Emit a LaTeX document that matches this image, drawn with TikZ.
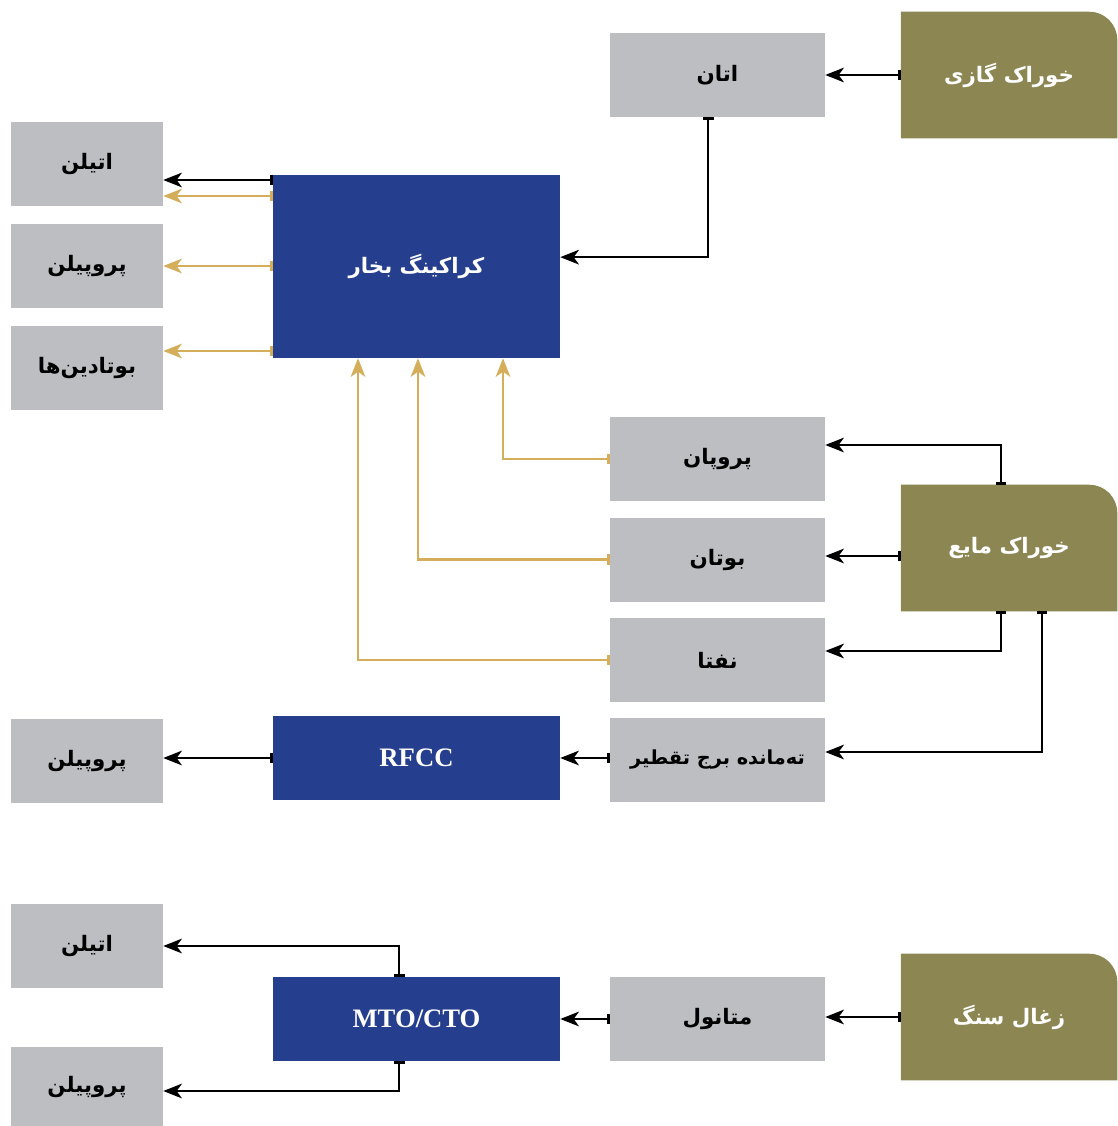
\documentclass[tikz,border=0pt]{standalone}
\usepackage{fontspec}
\setmainfont{Liberation Serif}
\newfontfamily\farsi[Script=Arabic]{DejaVu Sans}
\TeXXeTstate=1
\usetikzlibrary{arrows.meta,positioning,backgrounds}
\definecolor{boxgray}{HTML}{BDBEC2}
\definecolor{unitblue}{HTML}{253E8D}
\definecolor{feedolive}{HTML}{8C8653}
\definecolor{flowgold}{HTML}{D4AE5A}
\newcommand{\fa}[1]{{\farsi\bfseries\beginR #1\endR}}
\newcommand{\feedshape}[1]{\fill[feedolive] (#1.south west) -- (#1.north west)
  -- ([xshift=-21pt]#1.north east) arc[start angle=90, end angle=0, radius=21pt]
  -- (#1.south east) -- cycle;}
\tikzstyle{prod}=[fill=boxgray, inner sep=0, minimum height=63pt,
                  font=\fontsize{16}{18}\selectfont]
\tikzstyle{left prod}=[prod, minimum width=114pt]
\tikzstyle{right prod}=[prod, minimum width=161.25pt]
\tikzstyle{unit}=[fill=unitblue, text=white, inner sep=0, minimum width=215.25pt,
                  minimum height=63pt, font=\fontsize{16}{18}\selectfont]
\tikzstyle{unit latin}=[unit, font=\fontsize{20}{22}\selectfont\bfseries]
\tikzstyle{feed}=[text=white, inner sep=0, minimum width=162pt, minimum height=94.5pt,
                  font=\fontsize{16}{18}\selectfont]
\tikzstyle{flow}=[draw, line width=1.8pt,
                  arrows={Bar[width=8pt]-Stealth[length=14pt,width=11pt,inset=4pt]}]
\tikzstyle{gold flow}=[flow, draw=flowgold]
\begin{document}
\begin{tikzpicture}[x=0.75pt, y=-0.75pt]
\useasboundingbox (0,0) rectangle (1117,1126);

% steam cracking
\node[feed] at (1009,75) (gas) {\fa{خوراک گازی}};
\node[right prod] at (717.5,75) (ethane) {\fa{اتان}};
\node[unit, minimum height=137.25pt] at (416.5,266.5) (steam) {\fa{کراکینگ بخار}};
\node[left prod] at (87,164) (ethyleneA) {\fa{اتیلن}};
\node[left prod, below = 12.75pt of ethyleneA] (propyleneA) {\fa{پروپیلن}};
\node[left prod, below = 13.5pt of propyleneA] (butadiene) {\fa{بوتادین‌ها}};

% liquid feed
\node[feed] at (1009,548) (liquid) {\fa{خوراک مایع}};
\node[right prod] at (717.5,459) (propane) {\fa{پروپان}};
\node[right prod, below = 12pt of propane] (butane) {\fa{بوتان}};
\node[right prod, below = 12pt of butane] (naphtha) {\fa{نفتا}};
\node[right prod, below = 11.25pt of naphtha, font=\fontsize{14.5}{17}\selectfont]
  (residue) {\fa{ته‌مانده برج تقطیر}};
\node[unit latin] at (416.5,758) (rfcc) {RFCC};
\node[left prod] at (87,761) (propyleneB) {\fa{پروپیلن}};

% coal
\node[feed] at (1009,1017) (coal) {\fa{زغال سنگ}};
\node[right prod] at (717.5,1019) (methanol) {\fa{متانول}};
\node[unit latin] at (416.5,1019) (mto) {MTO/CTO};
\node[left prod] at (87,946) (ethyleneB) {\fa{اتیلن}};
\node[left prod, minimum height=59.25pt] at (87,1086.5) (propyleneC) {\fa{پروپیلن}};

\begin{scope}[on background layer]
\feedshape{gas}
\feedshape{liquid}
\feedshape{coal}
\end{scope}

\draw[flow] (gas.west) -- (ethane.east);
\draw[flow] ([xshift=-7pt]ethane.south) |- ([yshift=7pt]steam.east);
\draw[flow] (steam.west |- 0,180) -- (ethyleneA.east |- 0,180);
\draw[gold flow] (steam.west |- 0,196) -- (ethyleneA.east |- 0,196);
\draw[gold flow] (steam.west |- 0,266) -- (propyleneA.east |- 0,266);
\draw[gold flow] (steam.west |- 0,351) -- (butadiene.east |- 0,351);

\draw[gold flow] (propane.west) -| (503,0 |- steam.south);
\draw[gold flow] (butane.west) -| (418,0 |- steam.south);
\draw[gold flow] (naphtha.west) -| (358,0 |- steam.south);

\draw[flow] (liquid.north -| 1001,0) |- (propane.east |- 0,445);
\draw[flow] (liquid.west |- 0,556) -- (butane.east |- 0,556);
\draw[flow] (liquid.south -| 1001,0) |- (naphtha.east |- 0,651);
\draw[flow] (liquid.south -| 1042,0) |- (residue.east |- 0,752);
\draw[flow] (residue.west |- rfcc) -- (rfcc.east);
\draw[flow] (rfcc.west) -- (rfcc.west -| propyleneB.east);

\draw[flow] (coal.west) -- (coal.west -| methanol.east);
\draw[flow] (methanol.west |- mto) -- (mto.east);
\draw[flow] ([xshift=-13pt]mto.north) |- (ethyleneB.east);
\draw[flow] ([xshift=-13pt]mto.south) |- (propyleneC.east |- 0,1091);
\end{tikzpicture}
\end{document}
